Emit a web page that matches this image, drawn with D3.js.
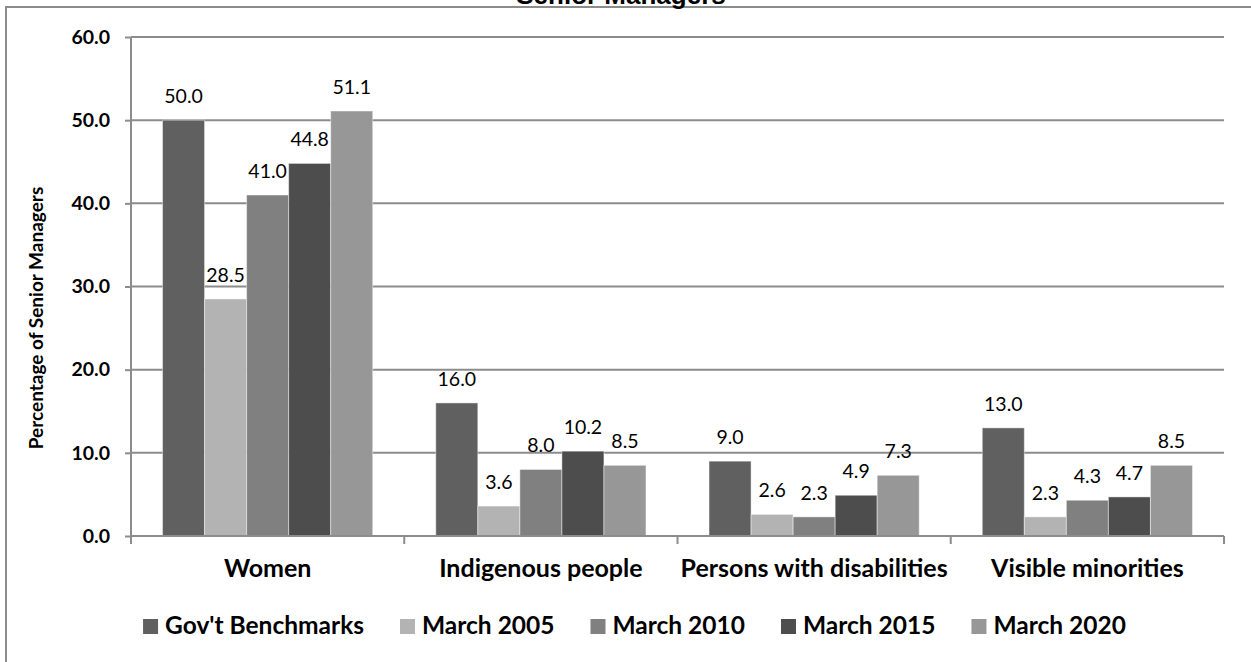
<!DOCTYPE html>
<html>
<head>
<meta charset="utf-8">
<script src="https://cdn.jsdelivr.net/npm/d3@7"></script>
<style>
  html, body { margin: 0; padding: 0; background: #ffffff; }
  svg { display: block; }
  text { font-family: Lato, "Open Sans", sans-serif; fill: #000; }
</style>
</head>
<body>
<svg id="chart" width="1251" height="662"></svg>
<script>
// Representation of groups among senior managers, in percent
const categories = ["Women", "Indigenous people", "Persons with disabilities", "Visible minorities"];
const seriesNames = ["Gov't Benchmarks", "March 2005", "March 2010", "March 2015", "March 2020"];
const govBenchmarks = [50.0, 16.0, 9.0, 13.0];
const march2005 = [28.5, 3.6, 2.6, 2.3];
const march2010 = [41.0, 8.0, 2.3, 4.3];
const march2015 = [44.8, 10.2, 4.9, 4.7];
const march2020 = [51.1, 8.5, 7.3, 8.5];
const yTicks = [0, 10, 20, 30, 40, 50, 60];
const seriesColors = ["#606060", "#b3b3b3", "#808080", "#4d4d4d", "#979797"];

const seriesValues = [govBenchmarks, march2005, march2010, march2015, march2020];
const rows = seriesNames.map((name, i) => ({ name, color: seriesColors[i], values: seriesValues[i] }));

const svg = d3.select("#chart");
const gridColor = "#8c8c8c";

// Outer chart frame (extends past the right and bottom edges)
svg.append("rect")
  .attr("x", 6).attr("y", 7)
  .attr("width", 1400).attr("height", 800)
  .attr("fill", "none").attr("stroke", gridColor).attr("stroke-width", 2);

// Title, partly above the visible area
svg.append("text")
  .attr("x", 621).attr("y", 4)
  .attr("text-anchor", "middle")
  .style("font-family", "'Liberation Sans', Arial, sans-serif")
  .style("font-weight", "bold").style("font-size", "26px")
  .text("Senior Managers");

const plot = { left: 131, right: 1224, top: 37, bottom: 536 };

const x = d3.scaleBand().domain(categories).range([plot.left, plot.right]).paddingInner(0).paddingOuter(0);
const xs = d3.scaleBand().domain(seriesNames).range([0, x.bandwidth()]).paddingInner(0).paddingOuter(0.75);
const y = d3.scaleLinear().domain([0, 60]).range([plot.bottom, plot.top]);

// Horizontal gridlines
svg.append("g").selectAll("line").data(yTicks.filter(t => t > 0)).join("line")
  .attr("x1", plot.left).attr("x2", plot.right)
  .attr("y1", d => y(d)).attr("y2", d => y(d))
  .attr("stroke", gridColor).attr("stroke-width", 2);

// Bars
const groups = svg.append("g").selectAll("g").data(rows).join("g").attr("fill", d => d.color);
groups.selectAll("rect")
  .data(d => d.values.map((v, i) => ({ name: d.name, cat: categories[i], v })))
  .join("rect")
  .attr("x", d => x(d.cat) + xs(d.name))
  .attr("width", xs.bandwidth())
  .attr("y", d => y(d.v))
  .attr("height", d => y(0) - y(d.v))
  .attr("stroke", "rgba(255,255,255,0.45)").attr("stroke-width", 1);

// Value labels
groups.selectAll("text")
  .data(d => d.values.map((v, i) => ({ name: d.name, cat: categories[i], v })))
  .join("text")
  .attr("x", d => x(d.cat) + xs(d.name) + xs.bandwidth() / 2)
  .attr("y", d => y(d.v) - 17)
  .attr("text-anchor", "middle")
  .style("font-size", "19.5px")
  .text(d => d3.format(".1f")(d.v));

// Y axis
const yAxis = svg.append("g")
  .attr("transform", `translate(${plot.left},0)`)
  .call(d3.axisLeft(y).tickValues(yTicks).tickFormat(d3.format(".1f")).tickSize(6).tickPadding(15));
yAxis.selectAll("path, line").attr("stroke", gridColor).attr("stroke-width", 2);
yAxis.select(".domain").attr("d", `M0,${plot.top}V${plot.bottom}`);
yAxis.selectAll("text")
  .style("font-family", "Lato, 'Open Sans', sans-serif")
  .style("font-size", "19.5px").style("font-weight", "bold").attr("fill", "#000");

// X axis: baseline, boundary ticks and category labels
const xAxis = svg.append("g").attr("transform", `translate(0,${plot.bottom})`)
  .call(d3.axisBottom(x).tickSize(0).tickPadding(0));
xAxis.select(".domain").attr("d", `M${plot.left},0H${plot.right}`)
  .attr("stroke", gridColor).attr("stroke-width", 2);
xAxis.selectAll("text")
  .attr("y", 41).attr("dy", null)
  .style("font-family", "Lato, 'Open Sans', sans-serif")
  .style("font-size", "25px").style("font-weight", "bold").attr("fill", "#000");
const bounds = categories.map(c => x(c)).concat([plot.right]);
xAxis.selectAll("line.bound").data(bounds).join("line").attr("class", "bound")
  .attr("x1", d => d).attr("x2", d => d).attr("y1", 0).attr("y2", 8)
  .attr("stroke", gridColor).attr("stroke-width", 2);

// Y axis title
svg.append("text")
  .attr("transform", "translate(43,318) rotate(-90)")
  .attr("text-anchor", "middle")
  .style("font-size", "19px").style("font-weight", "bold")
  .text("Percentage of Senior Managers");

// Legend, centred under the plot
const legend = svg.append("g");
const sw = 15, gapText = 7, gapItem = 36;
const items = legend.selectAll("g").data(rows).join("g");
items.append("rect").attr("width", sw).attr("height", sw).attr("y", -15).attr("fill", d => d.color);
items.append("text").attr("x", sw + gapText)
  .style("font-size", "24.5px").style("font-weight", "bold")
  .text(d => d.name);
const widths = [];
items.each(function () {
  widths.push(sw + gapText + d3.select(this).select("text").node().getComputedTextLength());
});
const total = d3.sum(widths) + gapItem * (widths.length - 1);
let lx = 634.5 - total / 2;
items.attr("transform", (d, i) => {
  const t = `translate(${lx},634)`;
  lx += widths[i] + gapItem;
  return t;
});
</script>
</body>
</html>
